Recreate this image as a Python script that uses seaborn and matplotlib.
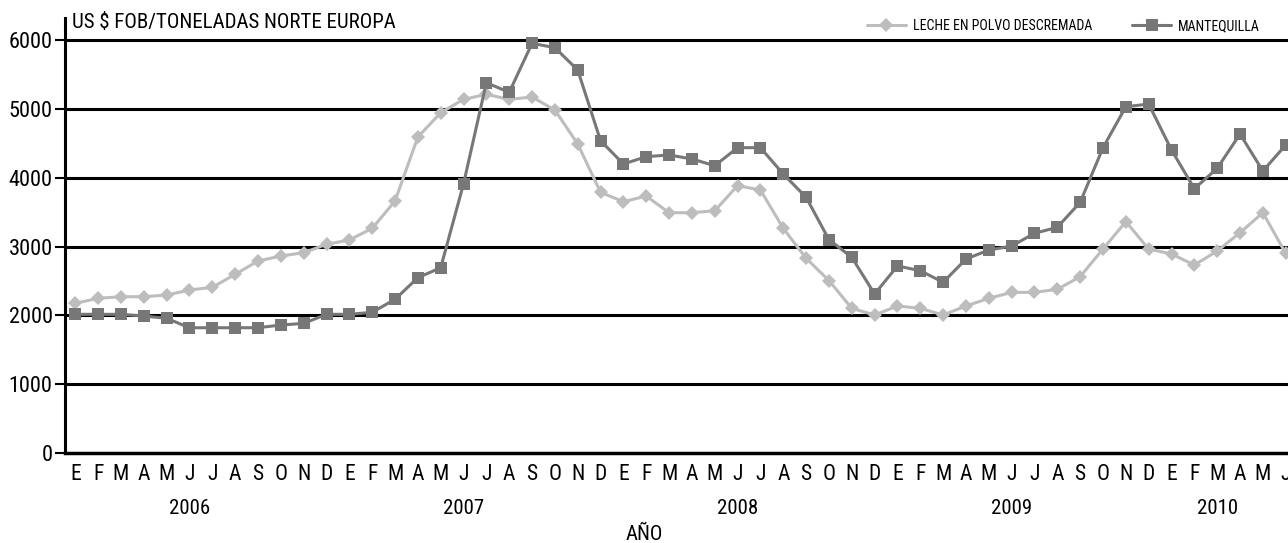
import pandas as pd
import matplotlib
matplotlib.use("Agg")
import matplotlib.pyplot as plt
import seaborn as sns

# monthly series, Jan 2006 .. Jun 2010 (US$ FOB / ton, North Europe)
meses = ["E", "F", "M", "A", "M", "J", "J", "A", "S", "O", "N", "D"]
anios = ["2006", "2007", "2008", "2009", "2010"]

leche = [2175, 2247, 2271, 2271, 2295, 2368, 2407, 2596, 2789, 2862, 2910, 3032,
         3095, 3264, 3661, 4590, 4944, 5138, 5211, 5138, 5172, 4983, 4489, 3787,
         3651, 3733, 3491, 3491, 3520, 3884, 3821, 3264, 2829, 2505, 2102, 2005,
         2136, 2102, 2005, 2136, 2247, 2334, 2334, 2378, 2562, 2964, 3361, 2964,
         2891, 2731, 2935, 3201, 3491, 2900]

mantequilla = [2015, 2015, 2015, 1990, 1957, 1820, 1820, 1820, 1820, 1859, 1883, 2015,
               2015, 2044, 2233, 2547, 2692, 3910, 5380, 5240, 5952, 5889, 5564, 4537,
               4199, 4305, 4330, 4272, 4174, 4436, 4436, 4053, 3715, 3100, 2843, 2310,
               2717, 2649, 2480, 2818, 2949, 3007, 3192, 3279, 3642, 4436, 5031, 5070,
               4402, 3840, 4136, 4634, 4097, 4475]

n = len(leche)
df = pd.DataFrame({"idx": list(range(n)), "leche": leche, "mantequilla": mantequilla})
month_labels = [meses[i % 12] for i in range(n)]

sns.set_style("white")
plt.rcParams["font.family"] = ["Roboto Condensed", "Roboto", "DejaVu Sans"]
plt.rcParams["text.color"] = "black"
plt.rcParams["xtick.color"] = "black"
plt.rcParams["ytick.color"] = "black"

fig = plt.figure(figsize=(12.88, 5.43), dpi=100)
ax = fig.add_axes([65 / 1288, 90 / 543, 1223 / 1288, 435 / 543])

# gridlines first so lines sit on top
for v in [1000, 2000, 3000, 4000, 5000, 6000]:
    ax.axhline(v, color="black", lw=2.2, zorder=1)

sns.lineplot(data=df, x="idx", y="leche", ax=ax, color="#bdbdbd", lw=2.2,
             marker="D", markersize=7, markeredgewidth=0, label="LECHE EN POLVO DESCREMADA", zorder=3)
sns.lineplot(data=df, x="idx", y="mantequilla", ax=ax, color="#777777", lw=2.2,
             marker="s", markersize=9, markeredgewidth=0, label="MANTEQUILLA", zorder=4)

ax.set_xlim(-0.45, 53.1)
ax.set_ylim(0, 6320)
ax.set_yticks([0, 1000, 2000, 3000, 4000, 5000, 6000])
ax.set_xticks(range(n))
ax.set_xticklabels(month_labels)
ax.tick_params(axis="x", length=0, pad=8, labelsize=15.5)
ax.tick_params(axis="y", length=7, width=1.5, direction="out", pad=2, labelsize=16, left=True)
ax.set_xlabel("")
ax.set_ylabel("")

for s in ["top", "right"]:
    ax.spines[s].set_visible(False)
ax.spines["left"].set_color("black")
ax.spines["left"].set_linewidth(2.2)
ax.spines["bottom"].set_color("black")
ax.spines["bottom"].set_linewidth(2.5)

# year labels under the months
for k, a in enumerate(anios):
    pos = 12 * k + 5 if k < 4 else 50
    ax.text(pos, -0.128, a, transform=ax.get_xaxis_transform(), ha="center", va="center", fontsize=15)

fig.text(0.5, 1 - 535 / 543, "AÑO", ha="center", va="center", fontsize=15)
fig.text(72 / 1288, 1 - 22 / 543, "US $ FOB/TONELADAS NORTE EUROPA", ha="left", va="center", fontsize=15)

leg = ax.legend(loc="center left", bbox_to_anchor=(867 / 1288, 1 - 26 / 543), bbox_transform=fig.transFigure,
                ncol=2, frameon=False, fontsize=10, handlelength=2.8, handletextpad=0.5,
                columnspacing=2.9, borderpad=0, borderaxespad=0)

fig.savefig("out.png", dpi=100)
